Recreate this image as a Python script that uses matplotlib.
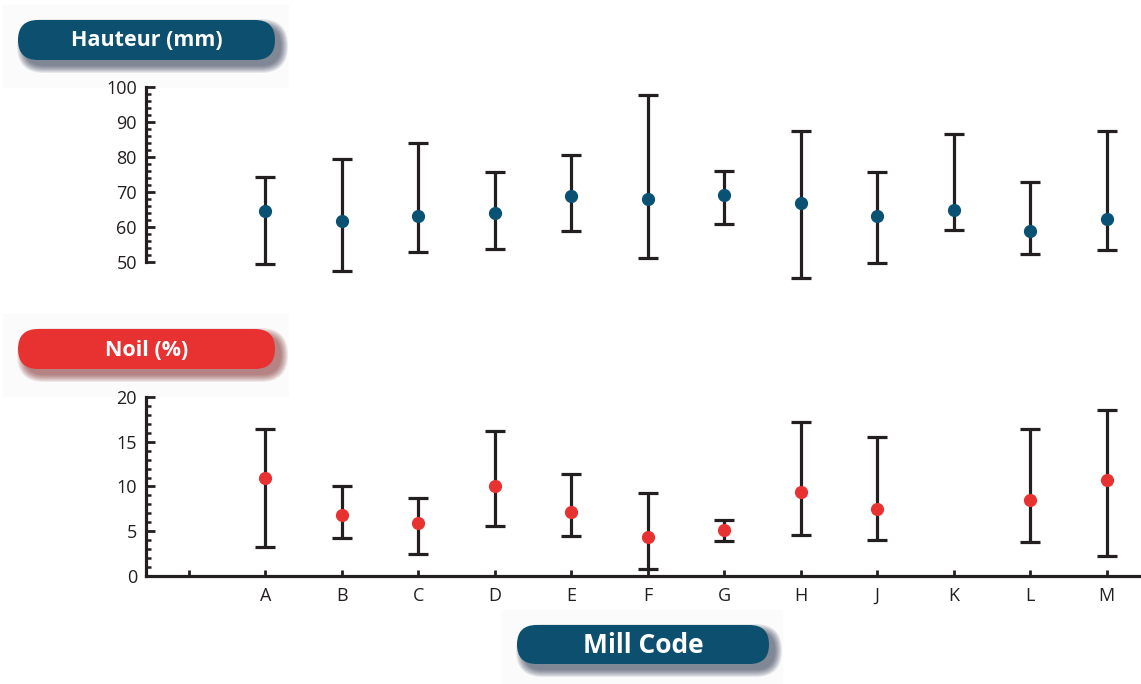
import matplotlib
matplotlib.use("Agg")
import matplotlib.pyplot as plt
import numpy as np
from matplotlib.patches import FancyBboxPatch, Rectangle
from matplotlib.ticker import FixedLocator

plt.rcParams["font.family"] = ["Open Sans", "DejaVu Sans"]

# data
mills = ["A", "B", "C", "D", "E", "F", "G", "H", "J", "K", "L", "M"]

hauteur_mean = [64.5, 61.7, 63.1, 64.0, 68.9, 68.0, 69.1, 66.8, 63.2, 64.9, 58.9, 62.4]
hauteur_low = [49.4, 47.5, 52.8, 53.7, 58.9, 51.1, 60.9, 45.3, 49.6, 59.1, 52.4, 53.4]
hauteur_high = [74.2, 79.5, 84.1, 75.8, 80.7, 97.8, 76.1, 87.5, 75.7, 86.7, 72.9, 87.5]

noil_mean = [10.9, 6.8, 5.9, 10.1, 7.2, 4.4, 5.1, 9.4, 7.5, np.nan, 8.5, 10.7]
noil_low = [3.2, 4.2, 2.5, 5.6, 4.5, 0.8, 3.9, 4.6, 4.0, np.nan, 3.8, 2.2]
noil_high = [16.4, 10.1, 8.7, 16.2, 11.4, 9.3, 6.3, 17.2, 15.5, np.nan, 16.4, 18.5]

BLUE = "#0c4f6e"
DOT_BLUE = "#0a5274"
RED = "#e83232"
INK = "#231f20"
W, H = 1141, 684


def pill(ax, x0, y0, w, h, color, shadow, text, size):
    ax.add_patch(Rectangle((x0 - 15, y0 - 15), w + 28, h + 42, color="#fbfbfb", zorder=0))
    for i in range(8):
        p = 1.0 * i
        ax.add_patch(FancyBboxPatch((x0 + 6 - p, y0 + 6 - p), w + 2 * p, h + 2 * p,
                                    boxstyle=f"round,pad=0,rounding_size={h / 2 + p}",
                                    fc=shadow, ec="none", alpha=0.09, zorder=1))
    ax.add_patch(FancyBboxPatch((x0, y0), w, h, boxstyle=f"round,pad=0,rounding_size={h / 2}",
                                fc=color, ec="none", zorder=2))
    ax.text(x0 + w / 2, y0 + h / 2 + 1, text, ha="center", va="center", color="white",
            fontsize=size, fontweight="bold", zorder=3)


fig = plt.figure(figsize=(W / 100, H / 100), dpi=100)

bg = fig.add_axes([0, 0, 1, 1])
bg.set_xlim(0, W)
bg.set_ylim(H, 0)
bg.axis("off")
pill(bg, 18, 20, 257, 40, BLUE, "#1a2440", "Hauteur (mm)", 15.5)
pill(bg, 18, 329, 257, 40, RED, "#7a2020", "Noil (%)", 15.5)
pill(bg, 517, 625, 252, 39, BLUE, "#1a2440", "Mill Code", 19)

x = np.arange(1, len(mills) + 1)
xlim = (-0.56, 12.45)
left = 146 / W
width = 1 - left


def px(y):
    return 1 - y / H


# top panel: 100 at y=87, 50 at y=262 (3.5 px per unit)
ax1 = fig.add_axes([left, px(283), width, (283 - 83.5) / H])
ax1.set_xlim(*xlim)
ax1.set_ylim(44, 101)
m = np.array(hauteur_mean)
err = [m - np.array(hauteur_low), np.array(hauteur_high) - m]
ax1.errorbar(x, m, yerr=err, fmt="o", color=DOT_BLUE, ms=8.5, ecolor=INK,
             elinewidth=2.3, capsize=7.5, capthick=2.3, zorder=3)

# bottom panel: 20 at y=397, 0 at y=576
ax2 = fig.add_axes([left, px(576), width, (576 - 392.5) / H])
ax2.set_xlim(*xlim)
ax2.set_ylim(0, 20.5)
m = np.array(noil_mean)
err = [m - np.array(noil_low), np.array(noil_high) - m]
ax2.errorbar(x, m, yerr=err, fmt="o", color=RED, ms=8.5, ecolor=INK,
             elinewidth=2.3, capsize=7.5, capthick=2.3, zorder=3)

for ax in (ax1, ax2):
    ax.patch.set_alpha(0)
    for s in ("top", "right"):
        ax.spines[s].set_visible(False)
    for s in ("left", "bottom"):
        ax.spines[s].set_linewidth(2.3)
        ax.spines[s].set_color(INK)
    ax.tick_params(axis="y", which="major", direction="in", length=6.5, width=2,
                   pad=6.5, labelsize=13, colors=INK)
    ax.tick_params(axis="y", which="minor", direction="in", length=3.6, width=1.8, colors=INK)

ax1.spines["bottom"].set_visible(False)
ax1.spines["left"].set_bounds(50, 100)
ax1.set_yticks(np.arange(50, 101, 10))
ax1.yaxis.set_minor_locator(FixedLocator(np.arange(50, 101, 2)))
ax1.set_xticks([])

ax2.spines["left"].set_bounds(0, 20)
ax2.set_yticks(np.arange(0, 21, 5))
ax2.yaxis.set_minor_locator(FixedLocator(np.arange(0, 21, 1)))
ax2.set_xticks(np.arange(0, len(mills) + 1))
ax2.set_xticklabels([""] + mills)
ax2.tick_params(axis="x", direction="in", length=4, width=2, pad=8, labelsize=13, colors=INK)

fig.savefig("out.png", dpi=100)
